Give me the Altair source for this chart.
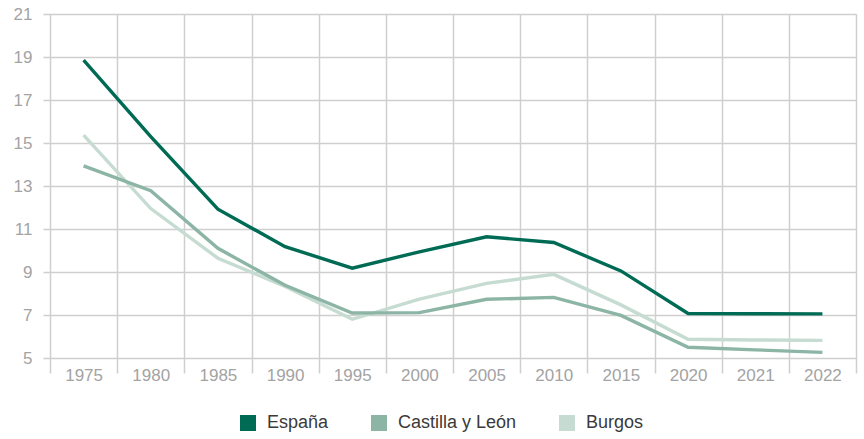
import altair as alt
import pandas as pd

years = ["1975", "1980", "1985", "1990", "1995", "2000", "2005", "2010", "2015", "2020", "2021", "2022"]
series = ["España", "Castilla y León", "Burgos"]
espana = [18.85, 15.3, 11.92, 10.18, 9.18, 9.94, 10.64, 10.37, 9.05, 7.07, 7.06, 7.05]
castilla = [13.94, 12.78, 10.1, 8.38, 7.09, 7.11, 7.73, 7.82, 6.98, 5.5, 5.38, 5.26]
burgos = [15.37, 11.95, 9.64, 8.33, 6.8, 7.74, 8.47, 8.89, 7.47, 5.87, 5.84, 5.82]
colors = ["#006b54", "#8cb5a6", "#c6dcd2"]
y_ticks = [5, 7, 9, 11, 13, 15, 17, 19, 21]

rows = []
for name, vals in [("Burgos", burgos), ("Castilla y León", castilla), ("España", espana)]:
    for yr, v in zip(years, vals):
        rows.append({"Año": yr, "Serie": name, "Valor": v})
df = pd.DataFrame(rows)

chart = alt.Chart(df).mark_line(strokeWidth=3.4).encode(
    x=alt.X("Año:N", sort=years, bandPosition=0.5,
            scale=alt.Scale(type="band", paddingInner=0, paddingOuter=0),
            axis=alt.Axis(title=None, labelAngle=0, tickBand="extent", domain=False,
                          grid=True, gridColor="#cfcfcf", gridWidth=1.5,
                          ticks=True, tickColor="#cfcfcf", tickWidth=1.5, tickSize=15,
                          labelPadding=-6, labelFontSize=17, labelColor="#a3a3a3",
                          labelFont="Liberation Sans")),
    y=alt.Y("Valor:Q", scale=alt.Scale(domain=[5, 21], nice=False, zero=False),
            axis=alt.Axis(title=None, values=y_ticks, domain=False,
                          grid=True, gridColor="#cfcfcf", gridWidth=1.5,
                          ticks=True, tickColor="#cfcfcf", tickWidth=1.5, tickSize=7,
                          labelPadding=11, labelFontSize=17, labelColor="#a3a3a3",
                          labelFont="Liberation Sans")),
    color=alt.Color("Serie:N", scale=alt.Scale(domain=series, range=colors),
                    legend=alt.Legend(title=None, orient="none", direction="horizontal",
                                      legendX=189, legendY=400,
                                      symbolType="square", symbolSize=16,
                                      symbolStrokeWidth=12, symbolOpacity=1,
                                      labelFontSize=18, labelColor="#3a3a3a",
                                      labelFont="Liberation Sans", labelOffset=10,
                                      columnPadding=24)),
    order=alt.Order("Serie:N", sort="ascending"),
).properties(
    width=806, height=344,
    autosize=alt.AutoSizeParams(type="none"),
    padding={"left": 50, "top": 14, "right": 8, "bottom": 81},
).configure_view(stroke=None).configure(background="white")

chart.save("out.html", embed_options={"renderer": "svg", "actions": False})
